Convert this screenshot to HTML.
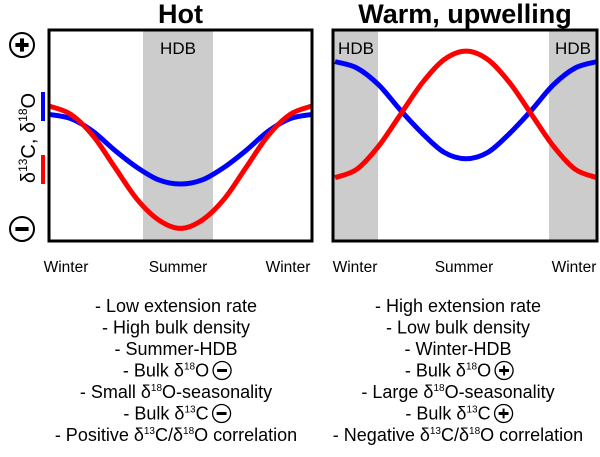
<!DOCTYPE html>
<html><head><meta charset="utf-8"><style>
html,body{margin:0;padding:0;background:#fff;width:600px;height:457px;overflow:hidden}
svg text{font-family:"Liberation Sans",Arial,sans-serif}
</style></head><body>
<svg id="fig" width="600" height="457" viewBox="0 0 600 457" xmlns="http://www.w3.org/2000/svg">
<g id="g"></g>
</svg>
<script>
// Data (values 0..100 on a relative isotope scale; months 0..12)
const months = [0,1,2,3,4,5,6,7,8,9,10,11,12];
const hotRed  = [64,60,50,35,20,10,6,10,20,35,50,60,64];
const hotBlue = [60,58,52,43,35,29,27,29,35,43,52,58,60];
const warmBlue= [85,82,74,62,51,42,39,42,51,62,74,82,85];
const warmRed = [30,34,45,60,75,86,90,86,75,60,45,34,30];
const xLabels = ["Winter","Summer","Winter"];
const hotText = ["- Low extension rate","- High bulk density","- Summer-HDB","BULKO-","- Small δ18O-seasonality","BULKC-","- Positive δ13C/δ18O correlation"];
const warmText= ["- High extension rate","- Low bulk density","- Winter-HDB","BULKO+","- Large δ18O-seasonality","BULKC+","- Negative δ13C/δ18O correlation"];

const NS="http://www.w3.org/2000/svg";
const gRoot=document.getElementById('g');
function mk(tag,attrs,parent){const e=document.createElementNS(NS,tag);for(const k in attrs)e.setAttribute(k,attrs[k]);(parent||gRoot).appendChild(e);return e;}

const plotTop=30,plotBot=241;
function yS(v){return plotBot-(v/100)*(plotBot-plotTop);}
function smooth(pts){let d="M"+pts[0][0]+","+pts[0][1];for(let i=0;i<pts.length-1;i++){const p0=pts[i-1]||pts[i],p1=pts[i],p2=pts[i+1],p3=pts[i+2]||p2;
d+=" C"+(p1[0]+(p2[0]-p0[0])/6)+","+(p1[1]+(p2[1]-p0[1])/6)+" "+(p2[0]-(p3[0]-p1[0])/6)+","+(p2[1]-(p3[1]-p1[1])/6)+" "+p2[0]+","+p2[1];}return d;}

function panel(name,x0,x1,cx0,cx1,hdb,series,title,labelX){
  const xS=t=>cx0+(t/12)*(cx1-cx0);
  const pg=mk('g',{});
  
  
  hdb.forEach((h)=>{const r=mk('rect',{x:h[0],y:plotTop,width:h[1]-h[0],height:plotBot-plotTop,fill:'#cccccc'},pg);
    
    
    const t=mk('text',{x:h[2],y:54,'font-size':17,'text-anchor':'middle',fill:'#000'},pg);t.textContent='HDB';
    
    });
  series.forEach(s=>{const p=mk('path',{d:smooth(months.map((m,i)=>[xS(m),yS(s.v[i])])),fill:'none',stroke:s.c,'stroke-width':5},pg);
    
    });
  const b=mk('rect',{x:x0,y:plotTop,width:x1-x0,height:plotBot-plotTop,fill:'none',stroke:'#000','stroke-width':3},pg);
  
  
  const tt=mk('text',{x:(x0+x1)/2,y:23,'font-size':27,'font-weight':'bold','text-anchor':'middle'},pg);tt.textContent=title;
  
  
  xLabels.forEach((l,i)=>{const t=mk('text',{x:labelX[i],y:272,'font-size':15.5,'text-anchor':'middle'},pg);t.textContent=l;
    
    });
}
panel('hot',49,312,49,312,[[143,213,178]],[{v:hotBlue,c:'#0000ff',n:'d18o-line'},{v:hotRed,c:'#ff0000',n:'d13c-line'}],'Hot',[66,178,288]);
panel('warm',333,597,335,597,[[333,378,356],[549,597,573]],[{v:warmBlue,c:'#0000ff',n:'d18o-line'},{v:warmRed,c:'#ff0000',n:'d13c-line'}],'Warm, upwelling',[355,464,574]);

function sym(cx,cy,r,plus,name){const sg=mk('g',{});
  
  
  const big=r>10;
  mk('circle',{cx:cx,cy:cy,r:r,fill:'none',stroke:'#000','stroke-width':big?2:1.3},sg);
  const w=r*0.55;mk('line',{x1:cx-w,y1:cy,x2:cx+w,y2:cy,stroke:'#000','stroke-width':big?4:3},sg);
  if(plus)mk('line',{x1:cx,y1:cy-w,x2:cx,y2:cy+w,stroke:'#000','stroke-width':big?4:2},sg);}
sym(22,45,12,true,'plus-symbol');
sym(22,229,12,false,'minus-symbol');

const yl=mk('g',{transform:'translate(35,138) rotate(-90)'});


const yt=mk('text',{x:0,y:0,'font-size':20,'text-anchor':'middle'},yl);
yt.innerHTML='δ<tspan font-size="12" dy="-8">13</tspan><tspan dy="8">C, δ</tspan><tspan font-size="12" dy="-8">18</tspan><tspan dy="8">O</tspan>';
mk('line',{x1:-46,y1:8,x2:-17,y2:8,stroke:'#ff0000','stroke-width':4},yl);
mk('line',{x1:17,y1:8,x2:46,y2:8,stroke:'#0000ff','stroke-width':4},yl);

function textBlock(lines,cx,name){
  lines.forEach((l,i)=>{const y=312+i*21.5;
    const t=mk('text',{x:cx,y:y,'font-size':18,'text-anchor':'middle'});
    
    
    if(l.startsWith('BULK')){
      const iso=l[4]==='O'?'18':'13', el=l[4];
      t.setAttribute('x',cx-10);
      t.innerHTML='- Bulk δ<tspan font-size="10" dy="-7">'+iso+'</tspan><tspan dy="7">'+el+'</tspan>';
      const plus=l[5]==='+';
      let bx=cx+30;
      try{const bb=t.getBBox();bx=bb.x+bb.width+13;}catch(e){}
      sym(bx,y-6,9,plus,'bulk-sign');
    } else {
      const n=(l.match(/δ(13|18)/g)||[]).length;
      t.innerHTML=l.replace(/δ(13|18)/g,(m,k)=>'δ<tspan font-size="10" dy="-7">'+k+'</tspan><tspan dy="7">')+'</tspan>'.repeat(n);
    }
  });
}
textBlock(hotText,176,'hot-text');
textBlock(warmText,458,'warm-text');
</script>
</body></html>
